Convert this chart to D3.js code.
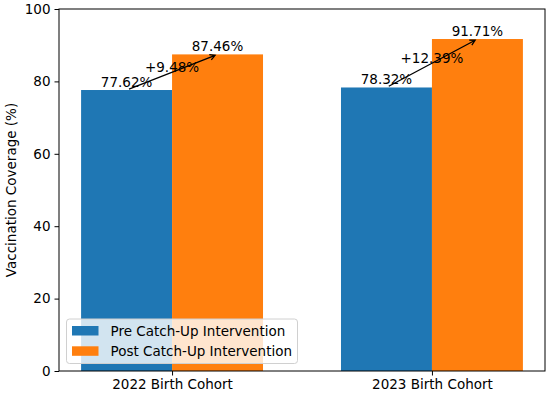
<!DOCTYPE html>
<html>
<head>
<meta charset="utf-8">
<script src="https://cdn.jsdelivr.net/npm/d3@7"></script>
<style>
body{margin:0;background:#fff}
svg text{font-family:"DejaVu Sans",sans-serif;font-size:13.5px;fill:#000}
</style>
</head>
<body>
<svg id="canvas" width="550" height="397"></svg>
<script>
const cohorts=["2022 Birth Cohort","2023 Birth Cohort"]
const preValues=[77.62,78.32]
const postValues=[87.46,91.71]
const changeLabels=["+9.48%","+12.39%"]
const seriesNames=["Pre Catch-Up Intervention","Post Catch-Up Intervention"]
const yTicks=[0,20,40,60,80,100]

const colors=["#1f77b4","#ff7f0e"]
const m={left:59,right:545,top:9,bottom:371}
const barW=0.35

let svg=d3.select("#canvas")

let x=d3.scaleLinear().domain([-0.435,1.435]).range([m.left,m.right])
let y=d3.scaleLinear().domain([0,100]).range([m.bottom,m.top])

// bars
let series=[preValues,postValues]
series.forEach((vals,s)=>{
    svg.selectAll(".bar"+s)
       .data(vals)
       .enter()
       .append("rect")
       .attr("x",(d,i)=>x(i+(s===0?-barW:0)))
       .attr("y",d=>y(d))
       .attr("width",x(barW)-x(0))
       .attr("height",d=>y(0)-y(d))
       .attr("fill",colors[s])
    svg.selectAll(".lab"+s)
       .data(vals)
       .enter()
       .append("text")
       .attr("x",(d,i)=>x(i+(s===0?-barW/2:barW/2)))
       .attr("y",d=>y(d)-3.5)
       .attr("text-anchor","middle")
       .text(d=>d.toFixed(2)+"%")
})

// arrows pre -> post
cohorts.forEach((c,i)=>{
    let x1=x(i-barW/2),y1=y(preValues[i])
    let x2=x(i+barW/2),y2=y(postValues[i])
    let len=Math.hypot(x2-x1,y2-y1)
    let ux=(x2-x1)/len,uy=(y2-y1)/len
    let sh=2.6
    let sx=x1+ux*sh,sy=y1+uy*sh
    let ex=x2-ux*sh,ey=y2-uy*sh
    let hl=5.2,hw=2.8
    let bx=ex-ux*hl,by=ey-uy*hl
    svg.append("path")
       .attr("d",`M${sx},${sy}L${ex},${ey}M${bx-uy*hw},${by+ux*hw}L${ex},${ey}L${bx+uy*hw},${by-ux*hw}`)
       .attr("fill","none")
       .attr("stroke","#000")
       .attr("stroke-width",1.3)
    svg.append("text")
       .attr("x",x(i))
       .attr("y",y((preValues[i]+postValues[i])/2))
       .attr("text-anchor","middle")
       .text(changeLabels[i])
})

// axes
let yAxis=d3.axisLeft(y).tickValues(yTicks).tickSize(4.5).tickPadding(4)
svg.append("g").attr("transform",`translate(${m.left},0)`).call(yAxis)
let xAxis=d3.axisBottom(x).tickValues([0,1]).tickFormat(i=>cohorts[i]).tickSize(4.5).tickPadding(4)
svg.append("g").attr("transform",`translate(0,${m.bottom})`).call(xAxis)
svg.selectAll(".tick line").attr("stroke","#000")
svg.selectAll(".domain").remove()

svg.append("rect")
   .attr("x",m.left).attr("y",m.top)
   .attr("width",m.right-m.left).attr("height",m.bottom-m.top)
   .attr("fill","none").attr("stroke","#000").attr("stroke-width",1)

svg.append("text")
   .attr("transform",`translate(16,${(m.top+m.bottom)/2}) rotate(-90)`)
   .attr("text-anchor","middle")
   .text("Vaccination Coverage (%)")

// legend
let lg=svg.append("g").attr("transform","translate(66.5,319)")
lg.append("rect")
  .attr("width",231).attr("height",44.5)
  .attr("rx",3).attr("fill","#fff").attr("fill-opacity",0.8)
  .attr("stroke","#d0d0d0").attr("stroke-width",1)
seriesNames.forEach((n,i)=>{
    lg.append("rect")
      .attr("x",5.5).attr("y",7+i*20.3)
      .attr("width",26.5).attr("height",9.5)
      .attr("fill",colors[i])
    lg.append("text")
      .attr("x",44).attr("y",16.5+i*20.3)
      .text(n)
})
</script>
</body>
</html>
